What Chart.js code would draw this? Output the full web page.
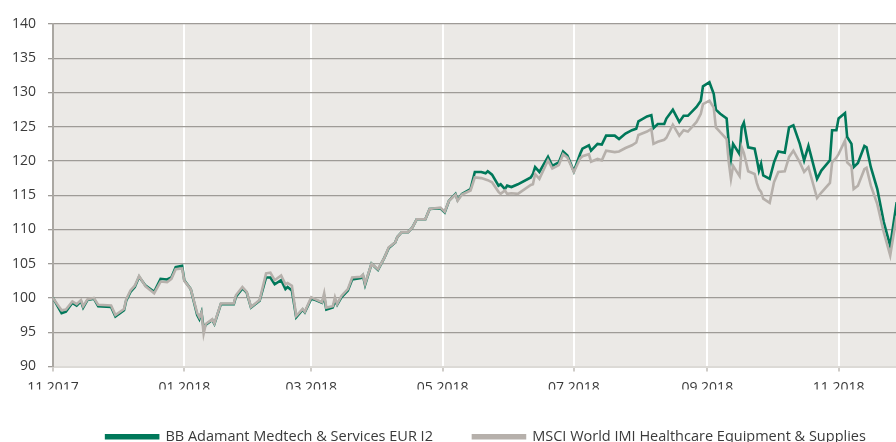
<!DOCTYPE html>
<html>
<head>
<meta charset="utf-8">
<script src="https://cdn.jsdelivr.net/npm/chart.js@4.4.1/dist/chart.umd.min.js"></script>
<style>
  html, body { margin: 0; padding: 0; background: #fff; overflow: hidden; }
  #wrap { width: 896px; height: 442px; overflow: hidden; }
  #chart { display: block; }
</style>
</head>
<body>
<div id="wrap"><canvas id="chart" width="972" height="454"></canvas></div>
<script>
const seriesNames = ['BB Adamant Medtech & Services EUR I2', 'MSCI World IMI Healthcare Equipment & Supplies'];

const dates = [
  '2017-11-01','2017-11-03','2017-11-05','2017-11-07','2017-11-10','2017-11-12','2017-11-14','2017-11-15','2017-11-17','2017-11-20',
  '2017-11-22','2017-11-28','2017-11-30','2017-12-04','2017-12-05','2017-12-07','2017-12-09','2017-12-11','2017-12-14','2017-12-18',
  '2017-12-21','2017-12-24','2017-12-26','2017-12-28','2017-12-31','2018-01-01','2018-01-04','2018-01-07','2018-01-08','2018-01-09',
  '2018-01-10','2018-01-11','2018-01-14','2018-01-15','2018-01-18','2018-01-24','2018-01-25','2018-01-28','2018-01-30','2018-02-01',
  '2018-02-05','2018-02-08','2018-02-10','2018-02-12','2018-02-15','2018-02-17','2018-02-18','2018-02-20','2018-02-22','2018-02-25',
  '2018-02-26','2018-03-01','2018-03-03','2018-03-06','2018-03-07','2018-03-08','2018-03-11','2018-03-12','2018-03-13','2018-03-15',
  '2018-03-18','2018-03-20','2018-03-24','2018-03-25','2018-03-26','2018-03-29','2018-04-01','2018-04-04','2018-04-06','2018-04-09',
  '2018-04-10','2018-04-12','2018-04-15','2018-04-17','2018-04-19','2018-04-23','2018-04-25','2018-04-30','2018-05-02','2018-05-04',
  '2018-05-07','2018-05-08','2018-05-10','2018-05-14','2018-05-16','2018-05-19','2018-05-21','2018-05-22','2018-05-24','2018-05-27',
  '2018-05-28','2018-05-30','2018-05-31','2018-06-02','2018-06-05','2018-06-11','2018-06-12','2018-06-13','2018-06-15','2018-06-19',
  '2018-06-21','2018-06-24','2018-06-26','2018-06-28','2018-07-01','2018-07-04','2018-07-05','2018-07-08','2018-07-09','2018-07-12',
  '2018-07-14','2018-07-16','2018-07-20','2018-07-22','2018-07-25','2018-07-28','2018-07-30','2018-07-31','2018-08-04','2018-08-06',
  '2018-08-07','2018-08-09','2018-08-12','2018-08-13','2018-08-16','2018-08-19','2018-08-21','2018-08-23','2018-08-27','2018-08-29',
  '2018-08-30','2018-09-02','2018-09-04','2018-09-05','2018-09-07','2018-09-10','2018-09-11','2018-09-12','2018-09-13','2018-09-16',
  '2018-09-17','2018-09-18','2018-09-20','2018-09-23','2018-09-24','2018-09-25','2018-09-26','2018-09-27','2018-09-30','2018-10-02',
  '2018-10-04','2018-10-07','2018-10-09','2018-10-11','2018-10-14','2018-10-16','2018-10-18','2018-10-22','2018-10-24','2018-10-28',
  '2018-10-29','2018-10-31','2018-11-01','2018-11-04','2018-11-05','2018-11-07','2018-11-08','2018-11-10','2018-11-13','2018-11-14',
  '2018-11-16','2018-11-19','2018-11-22','2018-11-25','2018-11-28'
];

const fundValues = [
  100.0, 98.9, 97.8, 98.0, 99.3, 98.9, 99.5, 98.6, 99.7, 99.9,
  98.8, 98.7, 97.3, 98.2, 99.6, 100.9, 101.6, 103.1, 101.8, 100.9,
  102.8, 102.7, 103.0, 104.5, 104.7, 102.6, 101.3, 97.5, 96.9, 97.9,
  95.5, 96.1, 96.8, 96.2, 99.1, 99.1, 100.2, 101.4, 100.8, 98.6,
  99.6, 103.0, 103.0, 102.0, 102.6, 101.3, 101.6, 101.1, 97.2, 98.3,
  97.9, 99.9, 99.7, 99.3, 100.2, 98.3, 98.6, 99.6, 99.0, 100.1,
  101.1, 102.7, 102.9, 103.3, 101.9, 105.0, 104.1, 105.9, 107.3, 108.1,
  108.9, 109.6, 109.6, 110.3, 111.5, 111.5, 113.0, 113.1, 112.5, 114.2,
  115.2, 114.3, 115.2, 115.9, 118.4, 118.4, 118.2, 118.5, 118.0, 116.4,
  116.6, 115.9, 116.4, 116.2, 116.6, 117.6, 118.1, 119.1, 118.4, 120.6,
  119.3, 119.8, 121.4, 120.8, 118.5, 121.1, 121.8, 122.3, 121.5, 122.5,
  122.4, 123.7, 123.7, 123.2, 124.0, 124.5, 124.7, 125.8, 126.5, 126.7,
  124.8, 125.4, 125.4, 126.2, 127.5, 125.7, 126.6, 126.6, 127.9, 128.8,
  130.9, 131.5, 129.8, 127.5, 126.9, 126.2, 122.5, 120.3, 122.5, 121.0,
  124.9, 125.6, 122.0, 121.8, 120.3, 118.6, 119.6, 117.9, 117.4, 119.8,
  121.4, 121.2, 124.9, 125.2, 122.5, 120.1, 122.2, 117.4, 118.6, 120.1,
  124.5, 124.5, 126.2, 127.0, 123.5, 122.5, 119.1, 119.7, 122.2, 122.0,
  119.1, 115.9, 111.1, 107.6, 114.0
];

const indexValues = [
  100.0, 99.1, 98.2, 98.3, 99.5, 99.1, 99.7, 98.8, 99.8, 100.0,
  99.0, 98.9, 97.5, 98.4, 99.8, 101.1, 101.8, 103.2, 101.7, 100.7,
  102.4, 102.3, 102.8, 104.2, 104.3, 102.5, 101.3, 97.8, 97.2, 97.9,
  94.8, 96.2, 96.9, 96.3, 99.2, 99.2, 100.4, 101.6, 100.9, 98.7,
  99.7, 103.6, 103.7, 102.6, 103.3, 102.0, 102.2, 101.8, 97.4, 98.4,
  98.0, 100.1, 99.8, 99.4, 100.7, 98.6, 98.8, 100.1, 99.1, 100.3,
  101.3, 103.0, 103.1, 103.4, 102.1, 105.0, 104.2, 105.9, 107.4, 108.1,
  108.9, 109.6, 109.6, 110.3, 111.5, 111.5, 113.0, 113.2, 112.6, 114.2,
  115.1, 114.2, 115.1, 115.7, 117.6, 117.5, 117.3, 117.2, 116.9, 115.5,
  115.2, 115.7, 115.2, 115.3, 115.2, 116.5, 116.6, 118.1, 117.4, 120.1,
  118.9, 119.4, 121.0, 120.5, 118.4, 120.4, 120.7, 121.0, 119.9, 120.3,
  120.1, 121.5, 121.3, 121.4, 121.9, 122.3, 122.7, 123.8, 124.3, 124.7,
  122.5, 122.8, 123.1, 123.4, 125.3, 123.7, 124.5, 124.3, 125.7, 126.9,
  128.3, 128.8, 127.8, 124.9, 124.2, 123.2, 119.8, 117.4, 119.3, 117.8,
  122.0, 121.2, 118.5, 118.1, 116.8, 115.9, 115.5, 114.5, 113.9, 116.9,
  118.4, 118.5, 120.6, 121.5, 119.8, 118.4, 119.1, 114.6, 115.4, 116.8,
  119.8, 120.5, 121.0, 123.0, 119.8, 119.2, 115.9, 116.4, 118.8, 119.0,
  116.4, 113.7, 109.6, 106.2, 112.0
];

// x axis labels sit on the first day of every second month
const tickDates = ['2017-11-01', '2018-01-01', '2018-03-01', '2018-05-01', '2018-07-01', '2018-09-01', '2018-11-01'];
const axisStart = '2017-11-01';
const axisEnd = '2019-01-02'; // the picture is cropped at the right, the axis goes on past the frame

const DAY = 86400000;
const t0 = Date.UTC(2017, 10, 1);
const toDay = (s) => {
  const [y, m, d] = s.split('-').map(Number);
  return (Date.UTC(y, m - 1, d) - t0) / DAY;
};
const monthLabel = (v) => {
  const dt = new Date(t0 + v * DAY);
  return String(dt.getUTCMonth() + 1).padStart(2, '0') + '.' + dt.getUTCFullYear();
};

const plotBackground = {
  id: 'plotBackground',
  beforeDraw(chart) {
    const { ctx, chartArea: a } = chart;
    ctx.save();
    ctx.fillStyle = '#ebe9e6';
    ctx.fillRect(a.left, a.top, a.right - a.left, a.bottom - a.top);
    ctx.restore();
  }
};

Chart.defaults.font.family = '"Open Sans", sans-serif';
Chart.defaults.font.size = 14;
Chart.defaults.color = '#3a3a3a';

new Chart(document.getElementById('chart'), {
  type: 'line',
  data: {
    datasets: [
      {
        label: seriesNames[0],
        data: dates.map((d, i) => ({ x: toDay(d), y: fundValues[i] })),
        borderColor: '#00785a',
        backgroundColor: '#00785a',
        borderWidth: 2.6,
        pointRadius: 0,
        tension: 0,
        order: 2 // drawn underneath the index line
      },
      {
        label: seriesNames[1],
        data: dates.map((d, i) => ({ x: toDay(d), y: indexValues[i] })),
        borderColor: '#b6b0ab',
        backgroundColor: '#b6b0ab',
        borderWidth: 2.6,
        pointRadius: 0,
        tension: 0,
        order: 1
      }
    ]
  },
  options: {
    responsive: false,
    animation: false,
    events: [],
    layout: { padding: { top: 24, left: 0, right: 0, bottom: 0 } },
    plugins: {
      tooltip: { enabled: false },
      legend: {
        position: 'bottom',
        labels: {
          boxWidth: 52,
          boxHeight: 3,
          padding: 40,
          color: '#3a3a3a',
          font: { size: 14.5 },
          sort: (a, b) => a.datasetIndex - b.datasetIndex
        }
      }
    },
    scales: {
      x: {
        type: 'linear',
        min: toDay(axisStart),
        max: toDay(axisEnd),
        afterBuildTicks: (scale) => {
          scale.ticks = tickDates.map((d) => ({ value: toDay(d) }));
        },
        afterFit: (scale) => { scale.height = 23; },
        ticks: {
          autoSkip: false,
          maxRotation: 0,
          padding: 8,
          callback: (v) => monthLabel(v)
        },
        grid: {
          color: '#ffffff',
          lineWidth: 2,
          tickColor: '#cfccc8',
          tickLength: 5
        },
        border: { color: '#dcdad6', width: 2 }
      },
      y: {
        min: 90,
        max: 140,
        afterFit: (scale) => { scale.width = 53; },
        ticks: { stepSize: 5, padding: 12 },
        grid: {
          color: '#9e9b97',
          lineWidth: 1.3,
          tickColor: '#9e9b97',
          tickLength: 5
        },
        border: { color: '#aaa7a2', width: 2 }
      }
    }
  },
  plugins: [plotBackground]
});
</script>
</body>
</html>
